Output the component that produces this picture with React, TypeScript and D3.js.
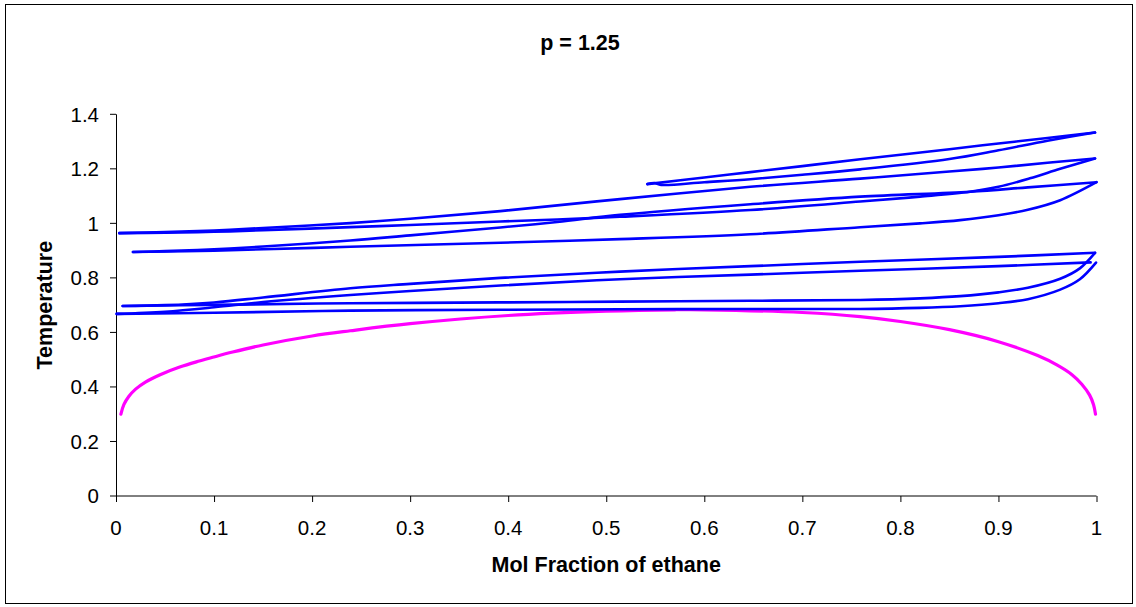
import React from "react";
import * as d3 from "d3";

type Pt = [number, number];

// x = mol fraction of ethane, y = temperature
const hookUpper: Pt[] = [[0.542,1.144],[0.6,1.168],[0.647,1.188],[0.7,1.210],[0.759,1.235],[0.85,1.272],[0.9,1.293],[0.95,1.313],[0.9985,1.333]];
const hookLower: Pt[] = [[0.542,1.144],[0.549,1.148],[0.556,1.141],[0.6,1.151],[0.647,1.162],[0.7,1.178],[0.759,1.198],[0.85,1.236],[0.9,1.268],[0.95,1.303],[0.9985,1.333]];

const loop2Upper: Pt[] = [[0.0034,0.964],[0.05,0.968],[0.1,0.974],[0.15,0.983],[0.239,1.001],[0.3,1.017],[0.392,1.045],[0.514,1.089],[0.647,1.134],[0.759,1.164],[0.85,1.19],[0.9,1.205],[0.95,1.222],[0.9985,1.238]];
const loop2Lower: Pt[] = [[0.0034,0.964],[0.05,0.966],[0.1,0.969],[0.15,0.975],[0.239,0.986],[0.3,0.994],[0.392,1.007],[0.45,1.014],[0.514,1.024],[0.647,1.049],[0.759,1.080],[0.82,1.098],[0.871,1.116],[0.9,1.134],[0.932,1.165],[0.963,1.200],[0.9985,1.238]];

const loop3Upper: Pt[] = [[0.0173,0.895],[0.05,0.898],[0.1,0.905],[0.15,0.915],[0.239,0.937],[0.3,0.956],[0.392,0.985],[0.45,1.005],[0.514,1.031],[0.647,1.070],[0.759,1.098],[0.871,1.116],[0.93,1.132],[1.0,1.151]];
const loop3Lower: Pt[] = [[0.0173,0.895],[0.1,0.900],[0.239,0.914],[0.392,0.929],[0.514,0.942],[0.647,0.960],[0.759,0.986],[0.82,1.0],[0.861,1.012],[0.9,1.03],[0.93,1.05],[0.963,1.085],[1.0,1.151]];

const loop4Upper: Pt[] = [[0.0068,0.697],[0.05,0.700],[0.1,0.710],[0.15,0.728],[0.239,0.762],[0.3,0.778],[0.392,0.800],[0.514,0.823],[0.647,0.843],[0.759,0.859],[0.9,0.877],[0.9985,0.892]];
const loop4Lower: Pt[] = [[0.0068,0.697],[0.1,0.701],[0.239,0.707],[0.392,0.710],[0.514,0.713],[0.647,0.716],[0.759,0.719],[0.82,0.725],[0.861,0.733],[0.9,0.747],[0.93,0.764],[0.963,0.797],[0.983,0.835],[0.9985,0.892]];

const loop5Upper: Pt[] = [[0.0007,0.668],[0.05,0.676],[0.1,0.692],[0.15,0.711],[0.239,0.737],[0.3,0.752],[0.392,0.772],[0.514,0.795],[0.647,0.812],[0.759,0.826],[0.9,0.843],[0.994,0.857]];
const loop5Lower: Pt[] = [[0.0007,0.668],[0.1,0.672],[0.239,0.680],[0.392,0.683],[0.514,0.685],[0.647,0.686],[0.759,0.686],[0.82,0.690],[0.861,0.696],[0.9,0.707],[0.93,0.722],[0.963,0.757],[0.983,0.795],[0.9995,0.856]];

const magentaCurve: Pt[] = [[0.005,0.30],[0.008,0.335],[0.013,0.365],[0.02,0.392],[0.03,0.418],[0.045,0.445],[0.065,0.473],[0.085,0.495],[0.1,0.51],[0.119,0.528],[0.15,0.554],[0.2,0.587],[0.239,0.606],[0.3,0.632],[0.4,0.662],[0.5,0.678],[0.57,0.683],[0.6,0.683],[0.7,0.673],[0.759,0.658],[0.8,0.64],[0.85,0.61],[0.9,0.566],[0.94,0.515],[0.96,0.48],[0.975,0.445],[0.985,0.41],[0.993,0.37],[0.997,0.335],[0.999,0.30]];

const blueSeries: Pt[][] = [hookUpper, hookLower, loop2Upper, loop2Lower, loop3Upper, loop3Lower, loop4Upper, loop4Lower, loop5Upper, loop5Lower];

const xTicks = [0, 0.1, 0.2, 0.3, 0.4, 0.5, 0.6, 0.7, 0.8, 0.9, 1];
const yTicks = [0, 0.2, 0.4, 0.6, 0.8, 1, 1.2, 1.4];

const title = "p = 1.25";
const xTitle = "Mol Fraction of ethane";
const yTitle = "Temperature";

const W = 1136, H = 607;
const left = 116, right = 1096.5, top = 114.3, bottom = 496;

export default function App() {
  const x = d3.scaleLinear().domain([0, 1]).range([left, right]);
  const y = d3.scaleLinear().domain([0, 1.4]).range([bottom, top]);
  const line = d3.line<Pt>().x(d => x(d[0])).y(d => y(d[1])).curve(d3.curveCatmullRom.alpha(0.5));
  const font = "'Liberation Sans', Arial, sans-serif";
  return (
    <svg width={W} height={H} style={{ position: "absolute", left: 0, top: 0, background: "#fff" }} fontFamily={font}>
      <rect x={5.5} y={4.5} width={1127} height={599} fill="#fff" stroke="#000" strokeWidth={1} />
      <text x={580} y={50} textAnchor="middle" fontSize={21.5} fontWeight="bold">{title}</text>
      {/* y axis */}
      <line x1={left + 0.5} x2={left + 0.5} y1={top} y2={bottom} stroke="#000" />
      {yTicks.map(t => (
        <g key={"y" + t}>
          <line x1={left - 6} x2={left} y1={y(t)} y2={y(t)} stroke="#000" />
          <text x={99} y={y(t)} dy="0.36em" textAnchor="end" fontSize={20.5}>{String(t)}</text>
        </g>
      ))}
      {/* x axis */}
      <line x1={left} x2={right} y1={bottom} y2={bottom} stroke="#000" />
      {xTicks.map(t => (
        <g key={"x" + t}>
          <line x1={x(t) + 0.5} x2={x(t) + 0.5} y1={bottom} y2={bottom + 6} stroke="#000" />
          <text x={x(t)} y={535} textAnchor="middle" fontSize={20.5}>{String(t)}</text>
        </g>
      ))}
      <text x={(left + right) / 2} y={572} textAnchor="middle" fontSize={21.5} fontWeight="bold">{xTitle}</text>
      <text transform={`translate(52,${(top + bottom) / 2}) rotate(-90)`} textAnchor="middle" fontSize={21.5} fontWeight="bold">{yTitle}</text>
      <path d={line(magentaCurve) || ""} fill="none" stroke="#ff00ff" strokeWidth={3.2} strokeLinejoin="round" strokeLinecap="round" />
      {blueSeries.map((s, i) => (
        <path key={i} d={line(s) || ""} fill="none" stroke="#0000ff" strokeWidth={2.6} strokeLinejoin="round" strokeLinecap="round" />
      ))}
    </svg>
  );
}
